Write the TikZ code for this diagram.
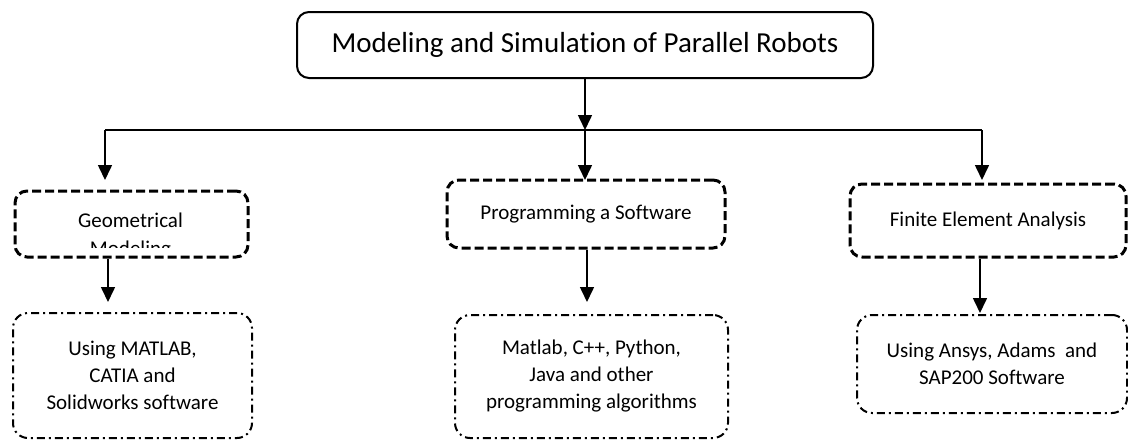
\documentclass[tikz,border=0pt]{standalone}
\usepackage{fontspec}
\setmainfont{Carlito}[Ligatures=NoCommon]
\usetikzlibrary{arrows.meta}

\tikzset{
  mainbox/.style={draw, line width=2pt, rounded corners=12pt, minimum width=576pt, minimum height=66pt,
    font=\fontsize{29}{35}\selectfont},
  heavybox/.style={draw, line width=3pt, dash pattern=on 9pt off 4pt, rounded corners=12pt},
  toolbox/.style={draw, line width=2pt, dash pattern=on 8pt off 4pt on 2pt off 4pt, rounded corners=15pt,
    align=center, font=\fontsize{21}{27}\selectfont},
  lbl/.style={font=\fontsize{21}{27}\selectfont},
  link/.style={line width=1.6pt},
  arr/.style={line width=1.6pt, -{Triangle[length=15pt,width=14pt]}}
}

\begin{document}
\begin{tikzpicture}[x=1pt,y=-1pt]
  \useasboundingbox (0,0) rectangle (1128,442);

  % top box
  \node[mainbox] (title) at (585,45) {Modeling and Simulation of Parallel Robots};

  % bus
  \coordinate (bus) at (585,130);
  \coordinate (b1) at (105,130);
  \coordinate (b3) at (982,130);
  \draw[arr] (title.south) -- (bus);
  \draw[link] (b1) -- (b3);

  % branches
  \coordinate (t1) at (105,180);
  \coordinate (t2) at (585,180);
  \coordinate (t3) at (982,180);
  \draw[arr] (b1) -- (t1);
  \draw[arr] (bus) -- (t2);
  \draw[arr] (b3) -- (t3);

  % methods
  \node[heavybox, minimum width=233pt, minimum height=66pt] (geo) at (131.5,224) {};
  \begin{scope}
    \clip (15,191) rectangle (248,247);
    \node[lbl, anchor=base] (geotxt) at (130.5,227) {Geometrical};
    \node[lbl, anchor=base] (geotxt2) at (130.5,255) {Modeling};
  \end{scope}
  \node[heavybox, lbl, minimum width=278pt, minimum height=68pt] (prog) at (586,214) {Programming a Software};
  \node[heavybox, lbl, minimum width=276pt, minimum height=73pt] (fea) at (988,220.5) {Finite Element Analysis};

  % tools
  \node[toolbox, minimum width=239pt, minimum height=125pt] (geosw) at (132.5,375.5)
    {Using MATLAB,\\CATIA and\\Solidworks software};
  \node[toolbox, minimum width=273pt, minimum height=123pt] (progsw) at (591.5,376.5)
    {Matlab, C++, Python,\\Java and other\\programming algorithms};
  \node[toolbox, minimum width=270pt, minimum height=98pt] (feasw) at (992,364)
    {Using Ansys, Adams\ \ and\\SAP200 Software};

  \coordinate (s1) at (108,302);
  \coordinate (s2) at (587,302);
  \coordinate (s3) at (980,313);
  \draw[arr] (geo.south -| s1) -- (s1);
  \draw[arr] (prog.south -| s2) -- (s2);
  \draw[arr] (fea.south -| s3) -- (s3);
\end{tikzpicture}
\end{document}
